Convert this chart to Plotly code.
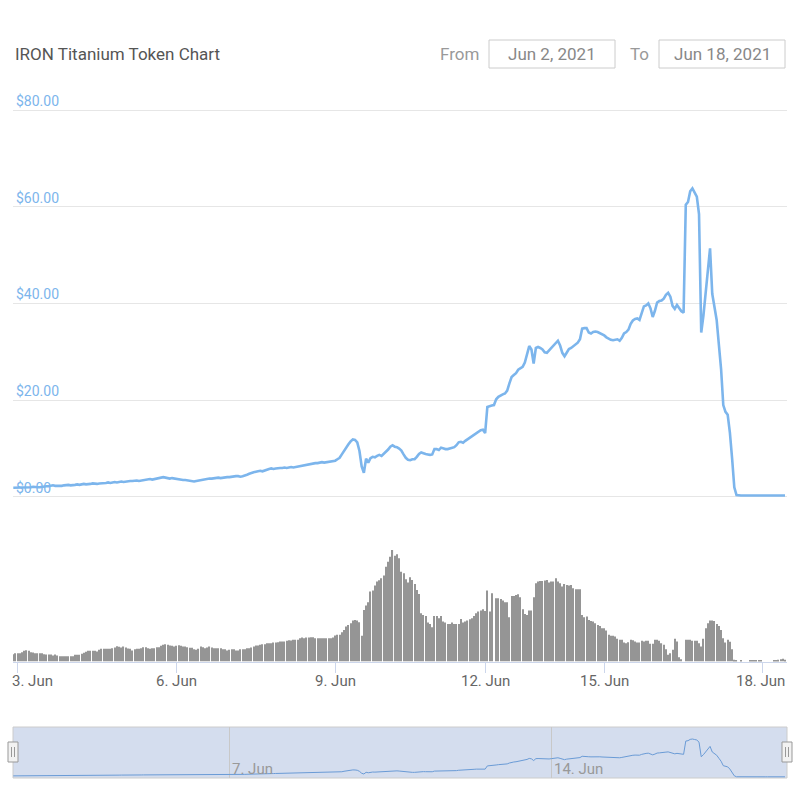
import pandas as pd
import plotly.graph_objects as go

# ---------------- data ----------------
start_time = "2021-06-02 22:00"
end_time = "2021-06-18 10:00"
missing_hours = (["2021-06-11 %02d:00" % h for h in range(2, 6)] +
                 ["2021-06-12 %02d:00" % h for h in range(1, 19)])

price_head = [1.9, 1.9]
price_jun03 = [1.9, 1.9, 2.0, 1.9, 1.9, 2.0, 2.0, 2.1, 2.0, 2.0, 2.0, 2.1, 2.1, 2.2, 2.2, 2.3, 2.4, 2.3, 2.3, 2.2, 2.3, 2.4, 2.5, 2.5]
price_jun04 = [2.4, 2.4, 2.5, 2.6, 2.5, 2.6, 2.7, 2.6, 2.6, 2.7, 2.8, 2.7, 2.7, 2.8, 2.8, 2.9, 2.9, 3.0, 2.9, 3.0, 3.1, 3.0, 3.1, 3.2]
price_jun05 = [3.1, 3.2, 3.2, 3.3, 3.3, 3.4, 3.4, 3.3, 3.4, 3.5, 3.5, 3.6, 3.7, 3.6, 3.7, 3.8, 3.9, 4.0, 4.1, 4.0, 3.9, 3.8, 3.9, 3.8]
price_jun06 = [3.7, 3.6, 3.6, 3.5, 3.5, 3.4, 3.3, 3.3, 3.2, 3.3, 3.4, 3.5, 3.6, 3.6, 3.7, 3.8, 3.8, 3.9, 3.9, 4.0, 3.9, 4.0, 4.0, 4.1]
price_jun07 = [4.1, 4.2, 4.2, 4.3, 4.3, 4.2, 4.3, 4.4, 4.6, 4.8, 5.0, 5.1, 5.2, 5.3, 5.4, 5.3, 5.5, 5.6, 5.8, 5.9, 5.8, 5.9, 6.0, 6.0]
price_jun08 = [6.0, 6.1, 6.0, 6.1, 6.2, 6.1, 6.2, 6.3, 6.4, 6.5, 6.6, 6.7, 6.8, 6.8, 6.9, 7.0, 7.0, 7.1, 7.2, 7.1, 7.2, 7.3, 7.4, 7.5]
price_tail = [
    7.5, 7.8, 8.1, 8.8, 9.6, 10.3, 10.9, 11.5, 11.9, 11.8,
    11.3, 9.5, 6.3, 5.0, 7.9, 7.1, 8.0, 8.3, 8.2, 8.5,
    8.7, 8.5, 8.9, 9.3, 9.8, 10.4, 10.7, 10.4, 10.3, 10.0,
    9.6, 8.8, 8.1, 7.7, 7.6, 7.8, 7.8, 8.3, 8.9, 9.2,
    9.0, 8.9, 8.8, 8.7, 8.8, 9.9, 9.9, 9.7, 10.2, 10.0,
    9.9, 9.9, 10.0, 10.1, 10.3, 10.7, 11.3, 11.4, 11.2, 11.6,
    11.9, 12.2, 12.6, 12.9, 13.2, 13.5, 13.8, 13.9, 13.2, 18.6,
    18.8, 18.9, 19.0, 20.2, 20.7, 21.0, 21.2, 21.4, 22.0, 23.5,
    24.8, 25.2, 25.6, 26.3, 26.6, 26.9, 27.8, 29.5, 31.2, 30.5,
    27.6, 30.8, 31.0, 30.8, 30.5, 29.9, 29.8, 30.3, 30.8, 31.2,
    31.7, 32.3, 31.3, 29.8, 29.1, 30.0, 30.6, 30.8, 31.2, 31.6,
    31.9, 32.6, 34.8, 34.9, 34.9, 34.0, 33.8, 34.1, 34.2, 34.1,
    33.9, 33.6, 33.4, 33.0, 32.7, 32.5, 32.4, 32.5, 32.6, 32.3,
    32.9, 33.8, 34.1, 34.6, 35.8, 36.5, 36.8, 36.9, 36.6, 38.0,
    39.4, 39.6, 40.0, 39.0, 37.2, 38.5, 40.2, 40.5, 40.6, 41.0,
    41.8, 42.2, 41.4, 39.5, 38.9, 39.7, 38.9, 38.4, 38.1, 60.4,
    61.0, 63.2, 63.8, 63.0, 62.1, 58.5, 34.0, 37.5, 42.0, 46.5,
    51.4, 42.0, 39.0, 36.6, 31.5, 26.5, 19.0, 17.6, 17.0, 13.3,
    8.0, 2.0, 0.4, 0.3, 0.3, 0.3, 0.3, 0.3, 0.3, 0.3,
    0.3, 0.3, 0.3, 0.3, 0.3, 0.3, 0.3, 0.3, 0.3, 0.3,
    0.3, 0.3, 0.3, 0.3, 0.3,
]

volume_a = [22, 25, 25, 25, 28, 32, 34, 32, 28, 27, 25, 25, 25, 25, 22, 21, 21, 21, 18, 21,
            18, 16, 16, 16, 16, 16, 16, 16, 20, 20, 20, 23, 26, 29, 32, 32, 32, 32, 30, 35,
            38, 38, 38, 38, 38, 40, 42, 46, 44, 42, 45, 42, 39, 38, 33, 37, 38, 38, 40, 43,
            43, 40, 38, 40, 40, 43, 43, 47, 50, 52, 50, 48, 47, 45, 47, 49, 47, 45, 45, 43,
            41, 41, 37, 35, 38]
volume_b = [45, 43, 40, 42, 45, 42, 40, 40, 40, 40, 37, 37, 33, 35, 37, 37, 33, 33, 37, 37,
            37, 40, 40, 42, 45, 48, 48, 50, 52, 52, 55, 55, 55, 57, 57, 58, 60, 60, 60, 62,
            64, 63, 65, 65, 65, 70, 72, 70, 72, 72, 73, 73, 70, 70, 70, 70, 70, 70, 70, 70, 72]
volume_c = [78, 80, 80, 88, 95, 105, 110, 115, 123, 125, 123, 118, 77, 155, 168, 178, 210, 213, 228, 240,
            244, 250, 258, 285, 300, 315, 335, 318, 322]
volume_d = [310, 270, 265, 247, 237, 253, 245, 233, 215, 203, 145, 140, 137, 117, 113, 103, 137, 137, 130, 137,
            120, 117, 113, 113, 117, 113, 113, 113, 128, 117, 120, 123, 127, 130, 137, 145, 150, 153, 157, 152,
            213, 150, 205, 0, 190, 190, 188, 183, 178, 178, 133, 197, 197, 200, 202, 193, 157, 143, 140, 153,
            153, 193, 235, 240, 242, 242, 243, 245, 237, 240, 240, 250, 240, 235, 225, 233, 230, 228, 230, 220,
            217, 217, 217, 140, 133, 135, 125]
volume_e = [122, 120, 115, 110, 107, 100, 100, 93, 80, 77, 77, 75, 68, 65, 65, 57, 55, 58, 65, 64,
            60, 57, 57, 62, 60, 62, 62, 53, 53, 65, 65, 62, 55, 50, 37, 20, 25, 35, 68, 60,
            13, 7, 0, 65, 65, 65, 62, 62, 62, 55, 45, 68, 100, 115, 123, 123, 122, 113, 107, 95,
            70, 57, 65, 59, 37, 5, 2, 0, 3, 0, 0, 0, 2, 3, 2, 3, 3, 2, 0, 0,
            0, 0, 0, 2, 4, 5, 7, 8, 5]

axis_days = ["2021-06-03", "2021-06-06", "2021-06-09", "2021-06-12", "2021-06-15", "2021-06-18"]
axis_labels = ["3. Jun", "6. Jun", "9. Jun", "12. Jun", "15. Jun", "18. Jun"]
nav_days = ["2021-06-07", "2021-06-14"]
nav_labels = ["7. Jun", "14. Jun"]
y_ticks = [0, 20, 40, 60, 80]
y_labels = ["$0.00", "$20.00", "$40.00", "$60.00", "$80.00"]

# ---------------- build ----------------
times = pd.date_range(start_time, end_time, freq="h").strftime("%Y-%m-%d %H:%M")
times = [t for t in times if t not in set(missing_hours)]
price = price_head + price_jun03 + price_jun04 + price_jun05 + price_jun06 + price_jun07 + price_jun08 + price_tail
volume = volume_a + volume_b + volume_c + volume_d + volume_e
n = min(len(times), len(price), len(volume))
times, price, volume = times[:n], price[:n], volume[:n]

W = H = 800
def px_x(v): return v / W
def px_y(v): return 1 - v / H

FONT = "Roboto"
x_left, x_right = 13, 787
xrange = [-0.13, n - 0.1]

fig = go.Figure()
fig.add_trace(go.Scatter(x=times, y=price, mode="lines", line=dict(color="#7cb5ec", width=2.6),
                         xaxis="x", yaxis="y", hoverinfo="skip", showlegend=False))
fig.add_trace(go.Bar(x=times, y=volume, marker=dict(color="#959595", line_width=0),
                     xaxis="x2", yaxis="y2", hoverinfo="skip", showlegend=False))
fig.add_trace(go.Scatter(x=times, y=price, mode="lines", line=dict(color="#6a9bd6", width=1),
                         xaxis="x3", yaxis="y3", hoverinfo="skip", showlegend=False))

dom_x = [px_x(x_left), px_x(x_right)]
common_x = dict(type="category", range=xrange, domain=dom_x, showgrid=False, zeroline=False,
                fixedrange=True, automargin=False)

# price scale: $0 at y=497px, $80 at y=110px
fig.update_layout(
    width=W, height=H, margin=dict(l=0, r=0, t=0, b=0, autoexpand=False),
    paper_bgcolor="white", plot_bgcolor="rgba(0,0,0,0)",
    font=dict(family=FONT), bargap=0.5,
    xaxis=dict(**common_x, anchor="y", showticklabels=False, ticks=""),
    yaxis=dict(domain=[px_y(501.8), px_y(81.0)], range=[-1, 86], tickvals=y_ticks, ticktext=y_labels,
               ticklabelposition="inside", ticklabelshift=-9, ticklabelstandoff=0,
               tickfont=dict(color="#7cb5ec", size=14, family=FONT),
               gridcolor="#e6e6e6", gridwidth=1, zeroline=False, showline=False, layer="below traces",
               anchor="x", fixedrange=True, automargin=False),
    xaxis2=dict(**common_x, anchor="y2", tickvals=[d + " 00:00" for d in axis_days],
                showticklabels=False,
                ticks="outside", ticklen=10, tickcolor="#ccd6eb", showline=True, linecolor="#ccd6eb"),
    yaxis2=dict(domain=[px_y(661.5), px_y(545)], range=[0, 350], visible=False, anchor="x2",
                fixedrange=True, automargin=False),
    xaxis3=dict(type="category", range=xrange, domain=dom_x, anchor="y3", showticklabels=False,
                tickvals=[d + " 00:00" for d in nav_days], showgrid=True, gridcolor="#c8c8c8",
                gridwidth=1, zeroline=False, ticks="", fixedrange=True, automargin=False),
    yaxis3=dict(domain=[px_y(778), px_y(727)], range=[-1.7, 84], visible=False, anchor="x3",
                fixedrange=True, automargin=False),
)

shapes = []
# navigator background and outline
shapes.append(dict(type="rect", xref="paper", yref="paper", x0=px_x(x_left), x1=px_x(x_right),
                   y0=px_y(778), y1=px_y(727), fillcolor="rgba(102,133,194,0.28)",
                   line=dict(color="#cccccc", width=1), layer="below"))
# navigator handles
for hx in (x_left, x_right):
    shapes.append(dict(type="rect", xref="paper", yref="paper", x0=px_x(hx - 5), x1=px_x(hx + 5),
                       y0=px_y(762), y1=px_y(742), fillcolor="#f2f2f2",
                       line=dict(color="#999999", width=1), layer="above"))
    for dx in (-1.5, 1.5):
        shapes.append(dict(type="line", xref="paper", yref="paper", x0=px_x(hx + dx), x1=px_x(hx + dx),
                           y0=px_y(757), y1=px_y(747), line=dict(color="#999999", width=1), layer="above"))
# date input boxes
for bx0, bx1 in ((489, 615), (659, 785)):
    shapes.append(dict(type="rect", xref="paper", yref="paper", x0=px_x(bx0), x1=px_x(bx1),
                       y0=px_y(68), y1=px_y(40), fillcolor="white",
                       line=dict(color="#cccccc", width=1), layer="above"))
fig.update_layout(shapes=shapes)

ann = []
ann.append(dict(text="IRON Titanium Token Chart", x=px_x(13), y=px_y(54), xref="paper", yref="paper",
                xanchor="left", yanchor="middle", showarrow=False,
                font=dict(size=17, color="#555555", family=FONT)))
ann.append(dict(text="From", x=px_x(481), y=px_y(54), xref="paper", yref="paper",
                xanchor="right", yanchor="middle", showarrow=False,
                font=dict(size=17, color="#999999", family=FONT)))
ann.append(dict(text="To", x=px_x(651), y=px_y(54), xref="paper", yref="paper",
                xanchor="right", yanchor="middle", showarrow=False,
                font=dict(size=17, color="#999999", family=FONT)))
ann.append(dict(text="Jun 2, 2021", x=px_x(552), y=px_y(54), xref="paper", yref="paper",
                xanchor="center", yanchor="middle", showarrow=False,
                font=dict(size=17, color="#888888", family=FONT)))
ann.append(dict(text="Jun 18, 2021", x=px_x(722), y=px_y(54), xref="paper", yref="paper",
                xanchor="center", yanchor="middle", showarrow=False,
                font=dict(size=17, color="#888888", family=FONT)))
# x-axis labels (Highcharts keeps the edge labels inside the plot)
label_shift = [15, 0, 0, 0, 0, -2]
for d, lab, sh in zip(axis_days, axis_labels, label_shift):
    ann.append(dict(text=lab, x=d + " 00:00", y=px_y(681), xref="x2", yref="paper",
                    xanchor="center", yanchor="middle", xshift=sh, showarrow=False,
                    font=dict(size=15, color="#666666", family=FONT)))
for d, lab in zip(nav_days, nav_labels):
    ann.append(dict(text=lab, x=d + " 00:00", y=px_y(769), xref="x3", yref="paper",
                    xanchor="left", yanchor="middle", xshift=1, showarrow=False,
                    font=dict(size=15, color="#999999", family=FONT)))
fig.update_layout(annotations=ann)

fig.write_html("out.html")
